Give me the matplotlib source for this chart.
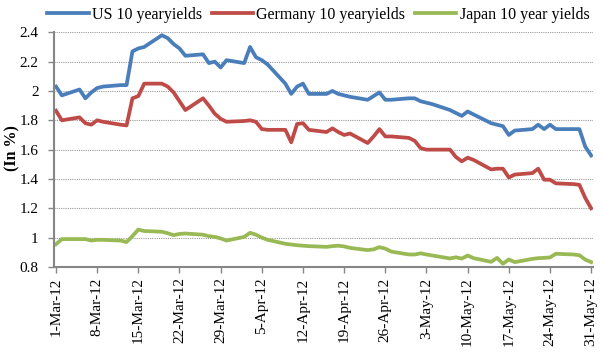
import matplotlib
matplotlib.use("Agg")
import matplotlib.pyplot as plt
import pandas as pd

# business days, 1-Mar-12 .. 31-May-12
mar_days = [1, 2, 5, 6, 7, 8, 9, 12, 13, 14, 15, 16, 19, 20, 21, 22, 23, 26, 27, 28, 29, 30]
apr_days = [2, 3, 4, 5, 6, 9, 10, 11, 12, 13, 16, 17, 18, 19, 20, 23, 24, 25, 26, 27, 30]
may_days = [1, 2, 3, 4, 7, 8, 9, 10, 11, 14, 15, 16, 17, 18, 21, 22, 23, 24, 25, 28, 29, 30, 31]

us_yield = [2.03, 1.97, 2.01, 1.95, 1.99, 2.02, 2.03, 2.04, 2.04, 2.27, 2.29, 2.30, 2.38, 2.36, 2.32, 2.29, 2.24, 2.25, 2.19, 2.20, 2.16, 2.21,
            2.19, 2.30, 2.23, 2.21, 2.18, 2.05, 1.98, 2.03, 2.05, 1.98, 1.98, 2.00, 1.98, 1.97, 1.96, 1.94, 1.965, 1.99, 1.94, 1.94, 1.95,
            1.95, 1.93, 1.92, 1.91, 1.87, 1.85, 1.83, 1.86, 1.84, 1.78, 1.77, 1.76, 1.70, 1.73, 1.74, 1.77, 1.74, 1.77, 1.74, 1.74, 1.74, 1.62, 1.56]
de_yield = [1.865, 1.80, 1.82, 1.78, 1.77, 1.80, 1.79, 1.77, 1.765, 1.95, 1.965, 2.05, 2.05, 2.03, 1.99, 1.93, 1.87, 1.95, 1.90, 1.845, 1.81, 1.79,
            1.795, 1.80, 1.79, 1.74, 1.735, 1.735, 1.65, 1.775, 1.78, 1.735, 1.72, 1.745, 1.72, 1.70, 1.71, 1.645, 1.69, 1.74, 1.69, 1.69, 1.68,
            1.66, 1.61, 1.60, 1.60, 1.60, 1.55, 1.52, 1.545, 1.53, 1.465, 1.47, 1.47, 1.41, 1.43, 1.44, 1.47, 1.395, 1.395, 1.37, 1.365, 1.36, 1.27, 1.20]
jp_yield = [0.955, 0.99, 0.99, 0.99, 0.98, 0.985, 0.985, 0.98, 0.97, 1.01, 1.055, 1.045, 1.04, 1.03, 1.017, 1.025, 1.028, 1.02, 1.01, 1.005, 0.995, 0.98,
            1.005, 1.033, 1.02, 1.0, 0.985, 0.958, 0.953, 0.948, 0.945, 0.942, 0.937, 0.942, 0.945, 0.94, 0.93, 0.915, 0.92, 0.935, 0.925, 0.905, 0.885,
            0.885, 0.893, 0.885, 0.878, 0.858, 0.866, 0.857, 0.878, 0.86, 0.835, 0.862, 0.822, 0.851, 0.833, 0.855, 0.86, 0.862, 0.865, 0.89, 0.885, 0.88, 0.85, 0.833]

series_names = ["US 10 yearyields", "Germany 10 yearyields", "Japan 10 year yields"]
series_colors = ["#4A7EBB", "#BE4B48", "#98B954"]

dates = ([pd.Timestamp(2012, 3, d) for d in mar_days] +
         [pd.Timestamp(2012, 4, d) for d in apr_days] +
         [pd.Timestamp(2012, 5, d) for d in may_days])

tick_dates = pd.date_range("2012-03-01", "2012-05-31", freq="7D")
tick_labels = ["1-Mar-12", "8-Mar-12", "15-Mar-12", "22-Mar-12", "29-Mar-12", "5-Apr-12", "12-Apr-12",
               "19-Apr-12", "26-Apr-12", "3-May-12", "10-May-12", "17-May-12", "24-May-12", "31-May-12"]
y_ticks = [0.8, 1.0, 1.2, 1.4, 1.6, 1.8, 2.0, 2.2, 2.4]
y_labels = ["0.8", "1", "1.2", "1.4", "1.6", "1.8", "2", "2.2", "2.4"]

plt.rcParams['font.family'] = ['Liberation Serif', 'DejaVu Serif']

fig = plt.figure(figsize=(6.03, 3.55), dpi=100)
ax = fig.add_axes([0.0896, 0.248, 0.894, 0.661])

for vals, name, col in zip([us_yield, de_yield, jp_yield], series_names, series_colors):
    ax.plot(dates, vals, color=col, lw=2.7, label=name, solid_joinstyle='round')

ax.set_ylim(0.8, 2.4)
ax.set_xlim(pd.Timestamp("2012-03-01") - pd.Timedelta(hours=8), pd.Timestamp("2012-05-31") + pd.Timedelta(hours=8))
ax.set_yticks(y_ticks)
ax.set_yticklabels(y_labels)
ax.set_xticks(tick_dates)
ax.set_xticklabels(tick_labels, rotation=90)
ax.tick_params(axis='both', labelsize=11, color='#868686', length=4, width=1)
ax.tick_params(axis='y', pad=7)

ax.yaxis.grid(True, linestyle=(0, (1, 1)), color='#9a9a9a', lw=0.8)
ax.set_axisbelow(True)
for s in ['top', 'right']:
    ax.spines[s].set_visible(False)
for s in ['left', 'bottom']:
    ax.spines[s].set_color('#868686')
    ax.spines[s].set_linewidth(1.5)

# y label placed in figure coords so it isn't clipped
fig.text(12 / 603, 1 - 148 / 355, "(In %)", rotation=90, ha='center', va='center',
         fontsize=11.5, fontweight='bold')

ax.legend(loc='lower center', bbox_to_anchor=(0.49, 1.0), ncol=3, frameon=False,
          fontsize=11.5, handlelength=2.6, handletextpad=0.2, columnspacing=0.6, borderaxespad=0.2)

fig.savefig("out.png", dpi=100)
